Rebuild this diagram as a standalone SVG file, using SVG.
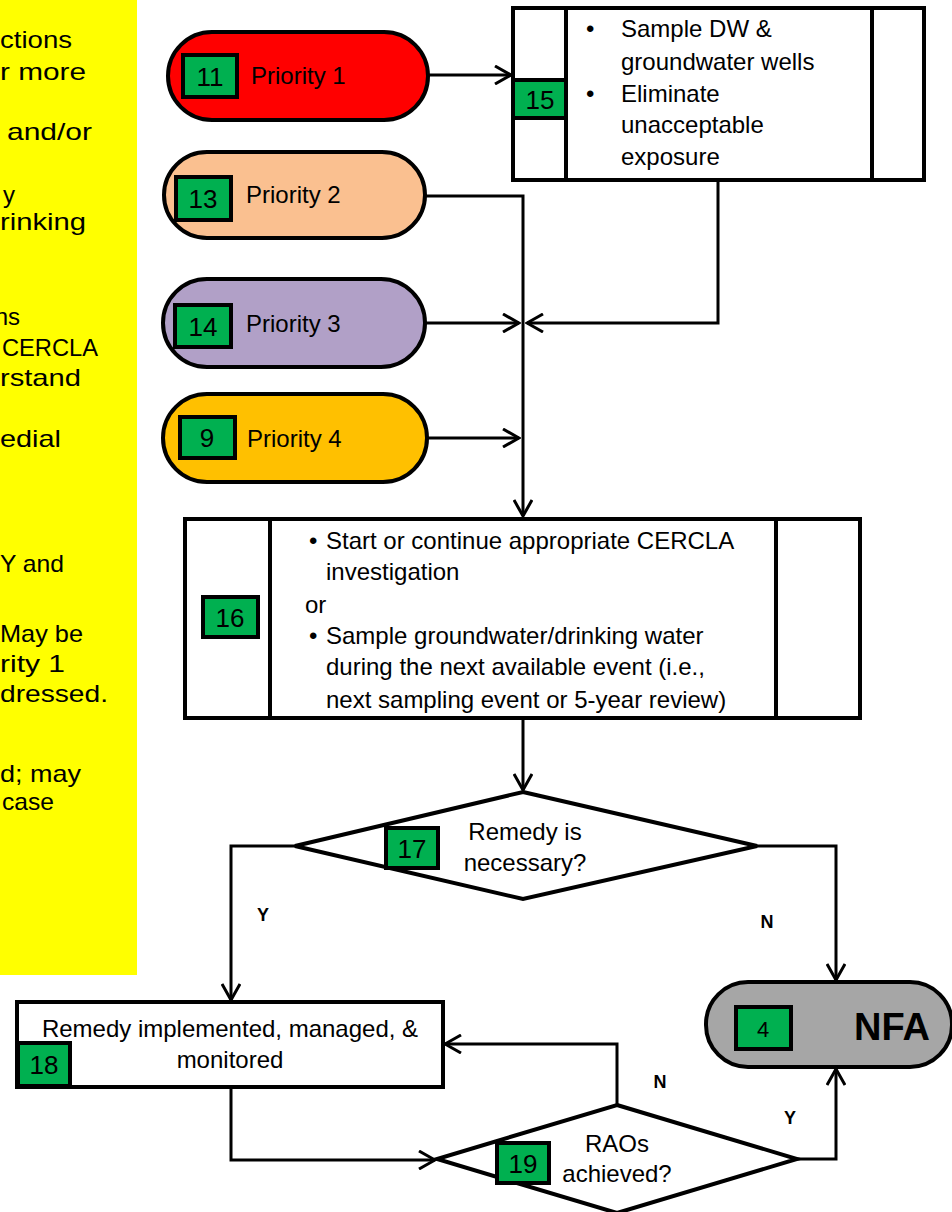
<svg xmlns="http://www.w3.org/2000/svg" width="952" height="1212" viewBox="0 0 952 1212">
<style>
text{font-family:"Liberation Sans",Arial,sans-serif;fill:#000}
.t{font-size:24px}
.side{font-size:24px}
.end{text-anchor:end}
.num{font-size:26px;text-anchor:middle}
.lbl{font-size:18px;font-weight:bold;text-anchor:middle}
.node{stroke:#000;stroke-width:4}
.badge{fill:#00B050;stroke:#000;stroke-width:4}
.con{fill:none;stroke:#000;stroke-width:3}
.mid{text-anchor:middle}
</style>
<defs>
<marker id="ah" viewBox="0 0 20 20" refX="18" refY="10" markerWidth="20" markerHeight="20" markerUnits="userSpaceOnUse" orient="auto">
<path d="M2,1 L18,10 L2,19" fill="none" stroke="#000" stroke-width="3"/>
</marker>
</defs>
<rect width="952" height="1212" fill="#fff"/>
<g id="note">
<rect x="0" y="0" width="137" height="975" fill="#FFFF00"/>
<text class="side" x="0" y="48" textLength="72" lengthAdjust="spacingAndGlyphs">ctions</text>
<text class="side" x="0" y="80" textLength="86" lengthAdjust="spacingAndGlyphs">r more</text>
<text class="side" x="7" y="140" textLength="85" lengthAdjust="spacingAndGlyphs">and/or</text>
<text class="side end" x="15" y="203">y</text>
<text class="side" x="0" y="230" textLength="86" lengthAdjust="spacingAndGlyphs">rinking</text>
<text class="side end" x="20" y="325">ns</text>
<text class="side" x="2" y="356" textLength="96" lengthAdjust="spacingAndGlyphs">CERCLA</text>
<text class="side" x="0" y="386" textLength="81" lengthAdjust="spacingAndGlyphs">rstand</text>
<text class="side" x="0" y="447" textLength="61" lengthAdjust="spacingAndGlyphs">edial</text>
<text class="side" x="0" y="572" textLength="64" lengthAdjust="spacingAndGlyphs">Y and</text>
<text class="side" x="0" y="642" textLength="83" lengthAdjust="spacingAndGlyphs">May be</text>
<text class="side" x="0" y="672" textLength="65" lengthAdjust="spacingAndGlyphs">rity 1</text>
<text class="side" x="0" y="702" textLength="108" lengthAdjust="spacingAndGlyphs">dressed.</text>
<text class="side" x="0" y="782" textLength="81" lengthAdjust="spacingAndGlyphs">d; may</text>
<text class="side" x="2" y="810" textLength="52" lengthAdjust="spacingAndGlyphs">case</text>
</g>
<g id="connectors">
<line class="con" x1="428" y1="75" x2="511" y2="75" marker-end="url(#ah)"/>
<polyline class="con" points="425,196 523,196 523,516" marker-end="url(#ah)"/>
<polyline class="con" points="718,180 718,323 527,323" marker-end="url(#ah)"/>
<line class="con" x1="425" y1="323" x2="519" y2="323" marker-end="url(#ah)"/>
<line class="con" x1="427" y1="438" x2="519" y2="438" marker-end="url(#ah)"/>
<line class="con" x1="523" y1="718" x2="523" y2="790" marker-end="url(#ah)"/>
<polyline class="con" points="295,846 231,846 231,1000" marker-end="url(#ah)"/>
<polyline class="con" points="757,846 836,846 836,980" marker-end="url(#ah)"/>
<polyline class="con" points="231,1087 231,1160 435,1160" marker-end="url(#ah)"/>
<polyline class="con" points="617,1105 617,1044 445,1044" marker-end="url(#ah)"/>
<polyline class="con" points="797,1159 836,1159 836,1069" marker-end="url(#ah)"/>
<text class="lbl" x="263" y="921">Y</text>
<text class="lbl" x="767" y="928">N</text>
<text class="lbl" x="660" y="1088">N</text>
<text class="lbl" x="790" y="1124">Y</text>
</g>
<g id="n11">
<rect class="node" x="168" y="32" width="260" height="88" rx="44" fill="#FF0000"/>
<rect class="badge" x="183" y="55" width="54" height="42"/>
<text class="num" x="210" y="86">11</text>
<text class="t" x="251" y="84">Priority 1</text>
</g>
<g id="n13">
<rect class="node" x="164" y="152" width="261" height="86" rx="43" fill="#FAC090"/>
<rect class="badge" x="176" y="177" width="55" height="43"/>
<text class="num" x="203" y="208">13</text>
<text class="t" x="246" y="203">Priority 2</text>
</g>
<g id="n14">
<rect class="node" x="163" y="279" width="262" height="88" rx="44" fill="#B1A0C7"/>
<rect class="badge" x="175" y="305" width="56" height="42"/>
<text class="num" x="203" y="336">14</text>
<text class="t" x="246" y="332">Priority 3</text>
</g>
<g id="n9">
<rect class="node" x="163" y="394" width="264" height="88" rx="44" fill="#FFC000"/>
<rect class="badge" x="180" y="417" width="55" height="41"/>
<text class="num" x="207" y="447">9</text>
<text class="t" x="247" y="447">Priority 4</text>
</g>
<g id="n15">
<rect class="node" x="513" y="8" width="411" height="172" fill="#fff"/>
<line class="node" x1="566" y1="8" x2="566" y2="180"/>
<line class="node" x1="872" y1="8" x2="872" y2="180"/>
<rect class="badge" x="513" y="80" width="53" height="38"/>
<text class="num" x="540" y="109">15</text>
<text class="t" x="586" y="37">•</text>
<text class="t" x="621" y="37">Sample DW &amp;</text>
<text class="t" x="621" y="70">groundwater wells</text>
<text class="t" x="586" y="102">•</text>
<text class="t" x="621" y="102">Eliminate</text>
<text class="t" x="621" y="133">unacceptable</text>
<text class="t" x="621" y="165">exposure</text>
</g>
<g id="n16">
<rect class="node" x="185" y="519" width="675" height="199" fill="#fff"/>
<line class="node" x1="270" y1="519" x2="270" y2="718"/>
<line class="node" x1="776" y1="519" x2="776" y2="718"/>
<rect class="badge" x="203" y="597" width="55" height="40"/>
<text class="num" x="230" y="627">16</text>
<text class="t" x="309" y="549">•</text>
<text class="t" x="326" y="549">Start or continue appropriate CERCLA</text>
<text class="t" x="326" y="580">investigation</text>
<text class="t" x="305" y="613">or</text>
<text class="t" x="309" y="644">•</text>
<text class="t" x="326" y="644">Sample groundwater/drinking water</text>
<text class="t" x="326" y="675">during the next available event (i.e.,</text>
<text class="t" x="326" y="708">next sampling event or 5-year review)</text>
</g>
<g id="n17">
<polygon class="node" points="523,792 757,846 523,899 295,846" fill="#fff"/>
<rect class="badge" x="386" y="828" width="52" height="40"/>
<text class="num" x="412" y="858">17</text>
<text class="t mid" x="525" y="840">Remedy is</text>
<text class="t mid" x="525" y="871">necessary?</text>
</g>
<g id="n4">
<rect class="node" x="706" y="982" width="246" height="85" rx="42" fill="#A6A6A6"/>
<rect class="badge" x="736" y="1007" width="55" height="42"/>
<text class="num" x="763" y="1037" style="font-size:22px">4</text>
<text x="892" y="1040" style="font-size:38px;font-weight:bold;text-anchor:middle">NFA</text>
</g>
<g id="n18">
<rect class="node" x="17" y="1002" width="426" height="85" fill="#fff"/>
<rect class="badge" x="18" y="1043" width="52" height="43"/>
<text class="num" x="44" y="1074">18</text>
<text class="t mid" x="230" y="1037">Remedy implemented, managed, &amp;</text>
<text class="t mid" x="230" y="1068">monitored</text>
</g>
<g id="n19">
<polygon class="node" points="617,1105 797,1159 617,1213 437,1159" fill="#fff"/>
<rect class="badge" x="497" y="1143" width="52" height="40"/>
<text class="num" x="523" y="1173">19</text>
<text class="t mid" x="617" y="1152">RAOs</text>
<text class="t mid" x="617" y="1182">achieved?</text>
</g>
</svg>
